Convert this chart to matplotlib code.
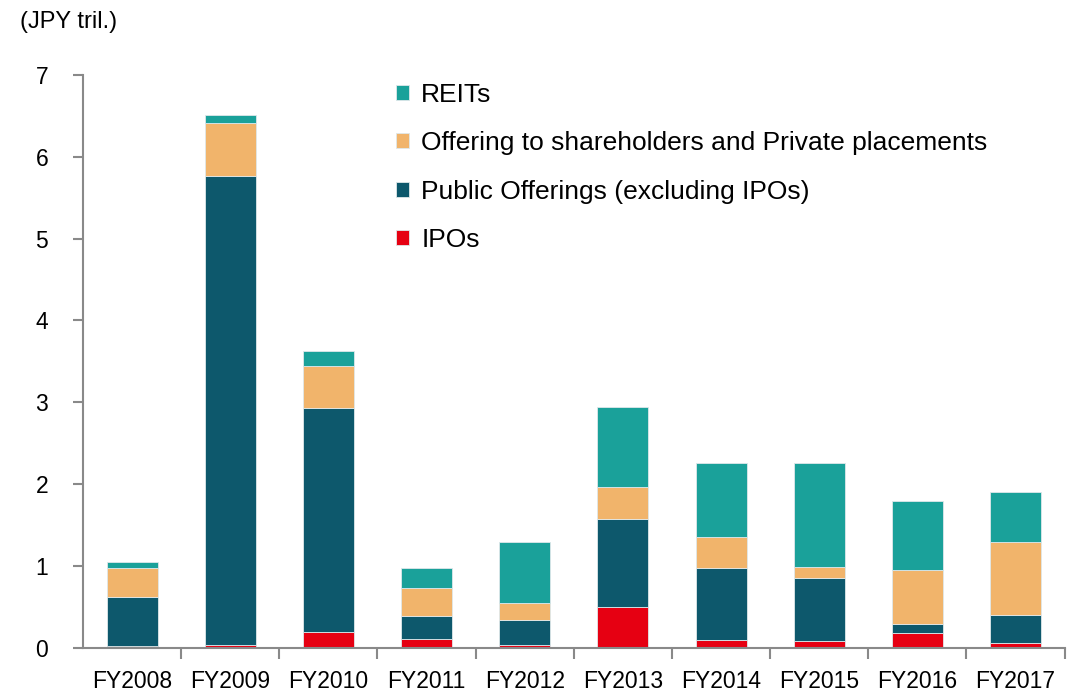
import numpy as np
import matplotlib
matplotlib.use("Agg")
from matplotlib import pyplot as plt
from matplotlib.ticker import FixedLocator

plt.rcParams['font.family'] = ['Liberation Sans', 'DejaVu Sans']

years = ['FY2008', 'FY2009', 'FY2010', 'FY2011', 'FY2012',
         'FY2013', 'FY2014', 'FY2015', 'FY2016', 'FY2017']
ipos = [0.02, 0.04, 0.19, 0.11, 0.04, 0.50, 0.10, 0.09, 0.18, 0.06]
public_offerings = [0.605, 5.72, 2.74, 0.275, 0.30, 1.08, 0.875, 0.765, 0.115, 0.34]
private_placements = [0.35, 0.65, 0.51, 0.345, 0.205, 0.385, 0.375, 0.135, 0.655, 0.90]
reits = [0.075, 0.10, 0.19, 0.245, 0.755, 0.975, 0.905, 1.265, 0.84, 0.61]

series = [
    ('IPOs', ipos, '#e60012'),
    ('Public Offerings (excluding IPOs)', public_offerings, '#0d586c'),
    ('Offering to shareholders and Private placements', private_placements, '#f1b46b'),
    ('REITs', reits, '#1aa19a'),
]

fig = plt.figure(figsize=(10.71, 6.93), dpi=100)
ax = fig.add_axes([0.0775, 0.065, 0.9165, 0.827])

x = np.arange(len(years))
bottom = np.zeros(len(years))
handles = []
for name, vals, col in series:
    b = ax.bar(x, vals, width=0.52, bottom=bottom, color=col, label=name,
               edgecolor='#dfe8ea', linewidth=0.6)
    bottom += np.array(vals)
    handles.append(b)

ax.set_xlim(-0.5, len(years) - 0.5)
ax.set_ylim(0, 7)
ax.set_yticks(range(0, 8))

ax.set_xticks(x)
ax.set_xticklabels(years, fontsize=16.5)
ax.xaxis.set_minor_locator(FixedLocator(np.arange(0.5, len(years), 1.0)))
ax.tick_params(axis='x', which='major', length=0, pad=16)
ax.tick_params(axis='x', which='minor', length=8, width=1.5, color='#898989', direction='out')
ax.tick_params(axis='y', length=7, width=1.5, color='#898989', labelsize=16.5, pad=18)

for s in ['top', 'right']:
    ax.spines[s].set_visible(False)
for s in ['left', 'bottom']:
    ax.spines[s].set_color('#898989')
    ax.spines[s].set_linewidth(1.5)

leg = ax.legend(handles[::-1], [s[0] for s in series][::-1],
                loc='upper left', bbox_to_anchor=(0.303, 1.014), frameon=False,
                fontsize=19, handlelength=0.5, handleheight=0.5,
                handletextpad=0.45, labelspacing=0.93, borderaxespad=0.2)

fig.text(0.019, 0.968, '(JPY tril.)', fontsize=17, va='center', ha='left')

fig.savefig('out.png', dpi=100)
